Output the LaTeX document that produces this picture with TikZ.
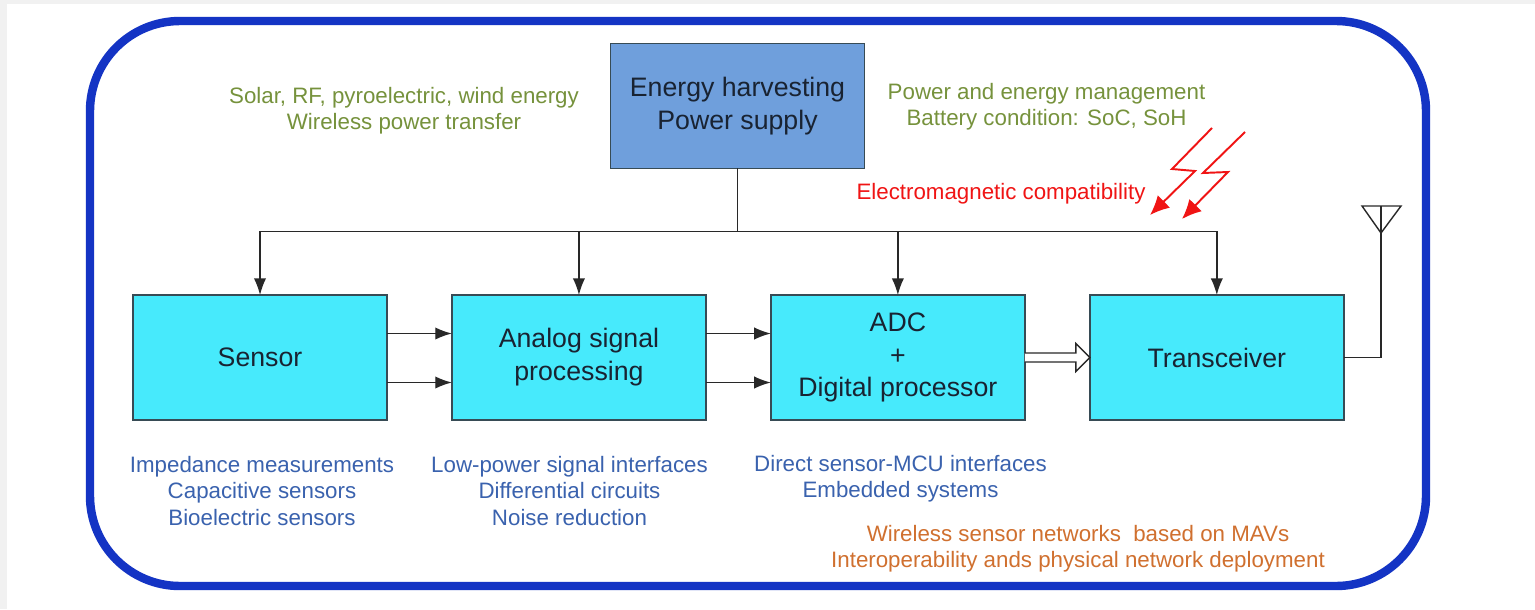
\documentclass[tikz,border=0pt]{standalone}
\usepackage{fontspec}
\setmainfont{Liberation Sans}
\usetikzlibrary{calc, arrows.meta, positioning}

\definecolor{framblue}{RGB}{20,52,196}
\definecolor{bggray}{RGB}{241,241,241}
\definecolor{boxcyan}{RGB}{71,234,252}
\definecolor{boxblue}{RGB}{111,159,220}
\definecolor{boxline}{RGB}{55,75,85}
\definecolor{boxtext}{RGB}{25,35,50}
\definecolor{wiregray}{RGB}{40,40,40}
\definecolor{txtgreen}{RGB}{118,146,60}
\definecolor{txtblue}{RGB}{58,98,174}
\definecolor{txtorange}{RGB}{208,112,47}
\definecolor{txtred}{RGB}{240,20,20}

\begin{document}
\begin{tikzpicture}[
    x=0.02cm, y=-0.02cm,
    >={Latex[length=9.5pt, width=7pt]},
    block/.style={rectangle, draw=boxline, line width=0.8pt, fill=boxcyan,
        text=boxtext, minimum width=5.08cm, minimum height=2.5cm, outer sep=0pt,
        align=center, font=\fontsize{15.2}{18.7}\selectfont},
    note/.style={align=center, font=\fontsize{12.7}{15}\selectfont},
    wire/.style={draw=wiregray, line width=0.8pt},
    bolt/.style={draw=txtred, line width=1.1pt, >={Latex[length=11pt, width=10pt]}}
]

    % Background -------------------------------------------------

    \fill[bggray] (0,0) rectangle (1535,609);
    \fill[white] (7,4) rectangle (1535,609);
    \useasboundingbox (0,0) rectangle (1535,609);
    \draw[framblue, line width=4.8pt, rounded corners=1.8cm] (90,21) rectangle (1426,586);

    % Nodes ------------------------------------------------------

    \node[block] (sen) at (260,357.5) {Sensor};
    \node[block, right=1.3cm of sen] (asp) {Analog signal\\processing};
    \node[block, right=1.3cm of asp] (adc) {ADC\\+\\Digital processor};
    \node[block, right=1.3cm of adc] (trx) {Transceiver};
    \node[block, fill=boxblue] (eh) at (737.5,106) {Energy harvesting\\Power supply};

    % labels
    \node[note, text=txtgreen] (harv) at (404,110.5) {Solar, RF, pyroelectric, wind energy\\Wireless power transfer};
    \node[note, text=txtgreen] (pwr) at (1046.5,107) {Power and energy management\\Battery condition: SoC, SoH};
    \node[note, text=txtred] (emc) at (1001,194) {Electromagnetic compatibility};
    \node[note, text=txtblue] (sen_note) at (262,491) {Impedance measurements\\Capacitive sensors\\Bioelectric sensors};
    \node[note, text=txtblue] (asp_note) at (569.5,491) {Low-power signal interfaces\\Differential circuits\\Noise reduction};
    \node[note, text=txtblue] (adc_note) at (900.5,478.5) {Direct sensor-MCU interfaces\\Embedded systems};
    \node[note, text=txtorange] (wsn_note) at (1078,548.5) {Wireless sensor networks\ \ based on MAVs\\Interoperability ands physical network deployment};

    % Arrows ---------------------------------------------------

    \draw[wire] (eh.south) -- ++(0,63) coordinate (bus);
    \draw[wire] (sen.north |- bus) -- (trx.north |- bus);
    \foreach \b in {sen, asp, adc, trx}
        \draw[wire, ->] (\b.north |- bus) -- (\b.north);

    \foreach \a/\b in {sen/asp, asp/adc} {
        \draw[wire, ->] ($(\a.east)+(0,-24)$) -- ($(\b.west)+(0,-24)$);
        \draw[wire, ->] ($(\a.east)+(0,25)$) -- ($(\b.west)+(0,25)$);
    }

    % hollow arrow
    \draw[wire, fill=white] ($(adc.east)+(0,-4.5)$) -- ($(trx.west)+(-14,-4.5)$)
        -- ($(trx.west)+(-14,-14)$) -- (trx.west) -- ($(trx.west)+(-14,14)$)
        -- ($(trx.west)+(-14,4.5)$) -- ($(adc.east)+(0,4.5)$);

    % antenna
    \coordinate (ant) at (1381,233);
    \draw[wire] (trx.east) -| (ant) -- (1381,206);
    \draw[wire] (ant) -- (1362,206) -- (1401,206) -- cycle;

    % interference
    \draw[bolt, ->] (1212,128) -- (1172,169) -- (1195,171) -- (1150,215);
    \draw[bolt, ->] (1245,132) -- (1203,173) -- (1228,172) -- (1182,219);

\end{tikzpicture}
\end{document}
